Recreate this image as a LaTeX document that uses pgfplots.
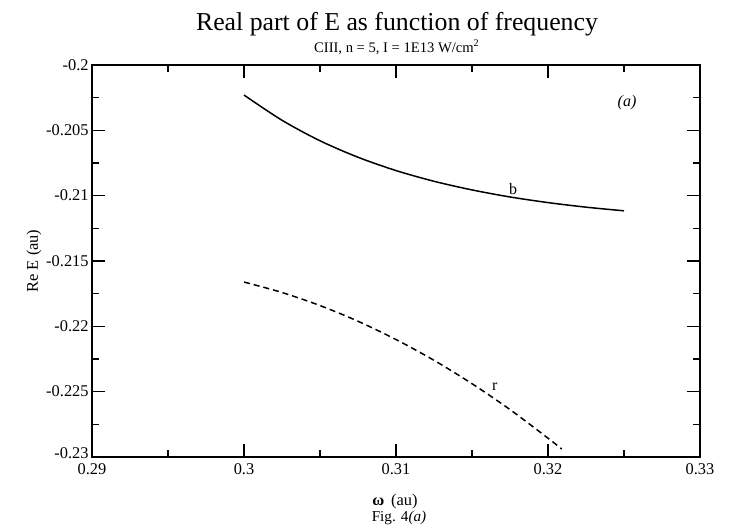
\documentclass[border=0pt]{standalone}
\usepackage{fontspec}
\setmainfont{Liberation Serif}
\usepackage{pgfplots}
\pgfplotsset{compat=1.18}
\begin{document}
\begin{tikzpicture}
\useasboundingbox (-46pt,-35.5pt) rectangle (320pt,228.5pt);
\begin{axis}[
  at={(0,0)}, anchor=south west,
  scale only axis, width=304pt, height=196pt,
  xmin=0.29, xmax=0.33, ymin=-0.23, ymax=-0.2,
  xtick={0.29,0.3,0.31,0.32,0.33},
  xticklabels={0.29,0.3,0.31,0.32,0.33},
  ytick={-0.225,-0.22,-0.215,-0.21,-0.205,-0.2},
  yticklabels={-0.225,-0.22,-0.215,-0.21,-0.205,-0.2},
  extra y ticks={-0.23},
  extra y tick labels={-0.23},
  extra y tick style={yticklabel style={yshift=2pt}},
  minor x tick num=1,
  minor ytick={-0.2275,-0.2225,-0.2175,-0.2125,-0.2075,-0.2025},
  tick align=inside,
  major tick length=6.5pt, minor tick length=3.5pt,
  xtick pos=both, ytick pos=both,
  axis line style={line width=1pt},
  every tick/.style={black, line width=0.7pt},
  ticklabel style={font=\fontsize{8.2}{9}\selectfont},
  x tick label style={yshift=-1.5pt, inner sep=1.5pt},
  y tick label style={xshift=0pt, inner sep=1.5pt},
  clip=false,
]
\addplot[black, line width=0.75pt, smooth] coordinates {
(0.3000,-0.20230) (0.3025,-0.20423) (0.3050,-0.20580) (0.3075,-0.20706)
(0.3100,-0.20808) (0.3125,-0.20890) (0.3150,-0.20956) (0.3175,-0.21010)
(0.3200,-0.21053) (0.3225,-0.21088) (0.3250,-0.21116)
};
\addplot[black, line width=0.75pt, dash pattern=on 3pt off 2pt, smooth] coordinates {
(0.3000,-0.21661) (0.3025,-0.21741) (0.3050,-0.21841) (0.3075,-0.21961)
(0.3100,-0.22101) (0.3125,-0.22260) (0.3150,-0.22439) (0.3175,-0.22637)
(0.3200,-0.22856) (0.3209,-0.22939)
};
\node[font=\fontsize{8}{9}\selectfont] at (axis cs:0.3177,-0.2095) {b};
\node[font=\fontsize{8}{9}\selectfont] at (axis cs:0.3165,-0.2246) {r};
\node[font=\fontsize{8}{9}\selectfont] at (axis cs:0.3252,-0.2029) {\textit{(a)}};
\end{axis}
\node[font=\fontsize{12.9}{14}\selectfont] at (152.5pt,216.5pt) {Real part of E as function of frequency};
\node[font=\fontsize{7.3}{8}\selectfont] at (152.5pt,205pt) {CIII, n = 5, I = 1E13 W/cm\textsuperscript{2}};
\node[font=\fontsize{8.2}{9}\selectfont, rotate=90] at (-29pt,98pt) {Re E (au)};
\node[font=\fontsize{8.2}{9}\selectfont] at (151.5pt,-22.5pt) {\textbf{ω}\ \,(au)};
\node[font=\fontsize{7.6}{9}\selectfont] at (153.5pt,-30.5pt) {Fig. 4\textit{(a)}};
\end{tikzpicture}
\end{document}
